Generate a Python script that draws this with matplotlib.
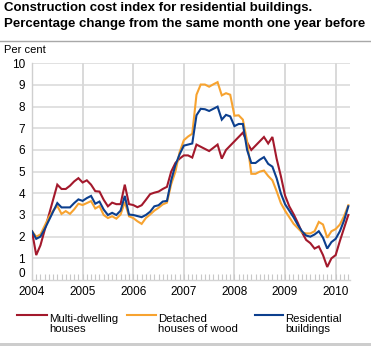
import matplotlib
matplotlib.use("Agg")
import matplotlib.pyplot as plt
from matplotlib.lines import Line2D
from matplotlib.patches import Rectangle
import numpy as np

# Monthly series, January 2004 - April 2010 (percentage change, 12 months)
start_year = 2004
multi_dwelling = [
    2.25, 1.15, 1.6, 2.3, 3.0, 3.7, 4.4, 4.2, 4.2, 4.35, 4.55, 4.7,      # 2004
    4.5, 4.6, 4.4, 4.1, 4.08, 3.7, 3.4, 3.57, 3.5, 3.5, 4.4, 3.5,        # 2005
    3.46, 3.36, 3.45, 3.7, 3.96, 4.03, 4.08, 4.2, 4.3, 5.0, 5.4, 5.6,    # 2006
    5.75, 5.75, 5.65, 6.25, 6.15, 6.05, 5.95, 6.1, 6.25, 5.6, 6.0, 6.2,  # 2007
    6.4, 6.6, 6.8, 6.35, 6.0, 6.2, 6.4, 6.6, 6.3, 6.6, 5.6, 4.8,         # 2008
    3.9, 3.4, 3.05, 2.65, 2.2, 1.85, 1.7, 1.45, 1.55, 1.15, 0.6, 1.0,    # 2009
    1.15, 1.8, 2.4, 3.0,                                                 # 2010
]
detached_wood = [
    2.25, 2.0, 2.1, 2.5, 2.9, 3.2, 3.42, 3.05, 3.18, 3.05, 3.26, 3.52,
    3.46, 3.55, 3.64, 3.3, 3.41, 3.0, 2.86, 2.94, 2.83, 3.02, 3.6, 2.94,
    2.86, 2.71, 2.59, 2.86, 3.02, 3.2, 3.33, 3.49, 3.57, 4.42, 5.0, 5.9,
    6.45, 6.62, 6.75, 8.55, 9.02, 9.02, 8.92, 9.03, 9.13, 8.52, 8.62, 8.55,
    7.58, 7.6, 7.4, 6.4, 4.9, 4.9, 5.0, 5.05, 4.8, 4.6, 4.1, 3.55,
    3.2, 2.9, 2.6, 2.4, 2.2, 2.15, 2.15, 2.25, 2.68, 2.56, 1.95, 2.25,
    2.35, 2.56, 2.95, 3.45,
]
residential = [
    2.25, 1.9, 2.0, 2.35, 2.75, 3.15, 3.55, 3.35, 3.35, 3.35, 3.55, 3.72,
    3.65, 3.78, 3.88, 3.52, 3.62, 3.25, 3.0, 3.1, 3.0, 3.2, 3.88, 3.02,
    3.0, 2.95, 2.9, 3.0, 3.15, 3.4, 3.45, 3.62, 3.65, 4.6, 5.3, 5.8,
    6.2, 6.25, 6.3, 7.6, 7.9, 7.88, 7.8, 7.9, 8.0, 7.4, 7.62, 7.55,
    7.1, 7.2, 7.2, 6.0, 5.4, 5.4, 5.55, 5.67, 5.36, 5.23, 4.7, 4.0,
    3.5, 3.2, 2.9, 2.55, 2.25, 2.05, 2.0, 2.1, 2.25, 1.95, 1.45, 1.75,
    1.9, 2.25, 2.75, 3.4,
]
year_labels = ["2004", "2005", "2006", "2007", "2008", "2009", "2010"]
y_ticks = list(range(0, 11))

series_labels = ["Multi-dwelling\nhouses", "Detached\nhouses of wood", "Residential\nbuildings"]
series_colors = ["#a3192c", "#f7a330", "#0c3f8e"]

months = np.arange(len(multi_dwelling))

W, H = 371, 346
fig = plt.figure(figsize=(W / 100, H / 100), dpi=100)
plt.rcParams["font.family"] = ["Liberation Sans", "DejaVu Sans"]

def fx(px):
    return px / W

def fy(py):
    return 1 - py / H

ax = fig.add_axes([fx(32), fy(280), fx(350) - fx(32), fy(63.3) - fy(280)])

grid_col = "#d9d9d9"
for v in y_ticks[1:]:
    ax.axhline(v, color=grid_col, lw=1.1, zorder=1)
for i in range(len(year_labels)):
    ax.axvline(i * 12, color=grid_col, lw=1.4, zorder=1)

for vals, col in zip([multi_dwelling, detached_wood, residential], series_colors):
    ax.plot(months, vals, color=col, lw=1.5, zorder=3, solid_joinstyle="miter")

ax.set_xlim(0, 75.4)
ax.set_ylim(0, 10)

ax.set_yticks(y_ticks)
ax.set_yticklabels([str(v) for v in y_ticks])
ax.set_xticks([i * 12 for i in range(len(year_labels))])
ax.set_xticklabels(year_labels)
ax.set_xticks(months, minor=True)

ax.tick_params(axis="y", length=0, pad=5, labelsize=8.5, labelcolor="#000000")
ax.tick_params(axis="x", which="major", direction="in", length=4, width=0.8,
               color="#c8c8c8", pad=4, labelsize=8.5)
ax.tick_params(axis="x", which="minor", direction="in", length=4, width=0.8,
               color="#c8c8c8")
# lift the zero label so it sits clear of the year labels
ax.get_yticklabels()[0].set_va("bottom")

for side in ["top", "right"]:
    ax.spines[side].set_visible(False)
ax.spines["left"].set_color("#cfcfcf")
ax.spines["left"].set_linewidth(1.0)
ax.spines["bottom"].set_color("#d4d4d4")
ax.spines["bottom"].set_linewidth(1.0)

# Heading
fig.text(fx(3.5), fy(11), "Construction cost index for residential buildings.",
         fontsize=9.55, fontweight="bold", va="baseline", ha="left")
fig.text(fx(3.5), fy(27.5), "Percentage change from the same month one year before",
         fontsize=9.55, fontweight="bold", va="baseline", ha="left")
fig.add_artist(Line2D([0, 1], [fy(41), fy(41)], color="#a8a8a8", lw=1.0))

fig.text(fx(4), fy(53), "Per cent", fontsize=8.0, va="baseline", ha="left")

# Key below the plot
key_x = [(17, 47, 49.5), (127, 156, 158.5), (255, 283, 285.5)]
for (x0, x1, tx), col, lab in zip(key_x, series_colors, series_labels):
    fig.add_artist(Line2D([fx(x0), fx(x1)], [fy(315), fy(315)], color=col, lw=1.5))
    fig.text(fx(tx), fy(332), lab, fontsize=8.2, va="baseline", ha="left",
             linespacing=1.05)

fig.add_artist(Rectangle((0, 0), 1, 3 / H, transform=fig.transFigure,
                         color="#cdcdcd", lw=0))

fig.savefig("out.png", dpi=100)
